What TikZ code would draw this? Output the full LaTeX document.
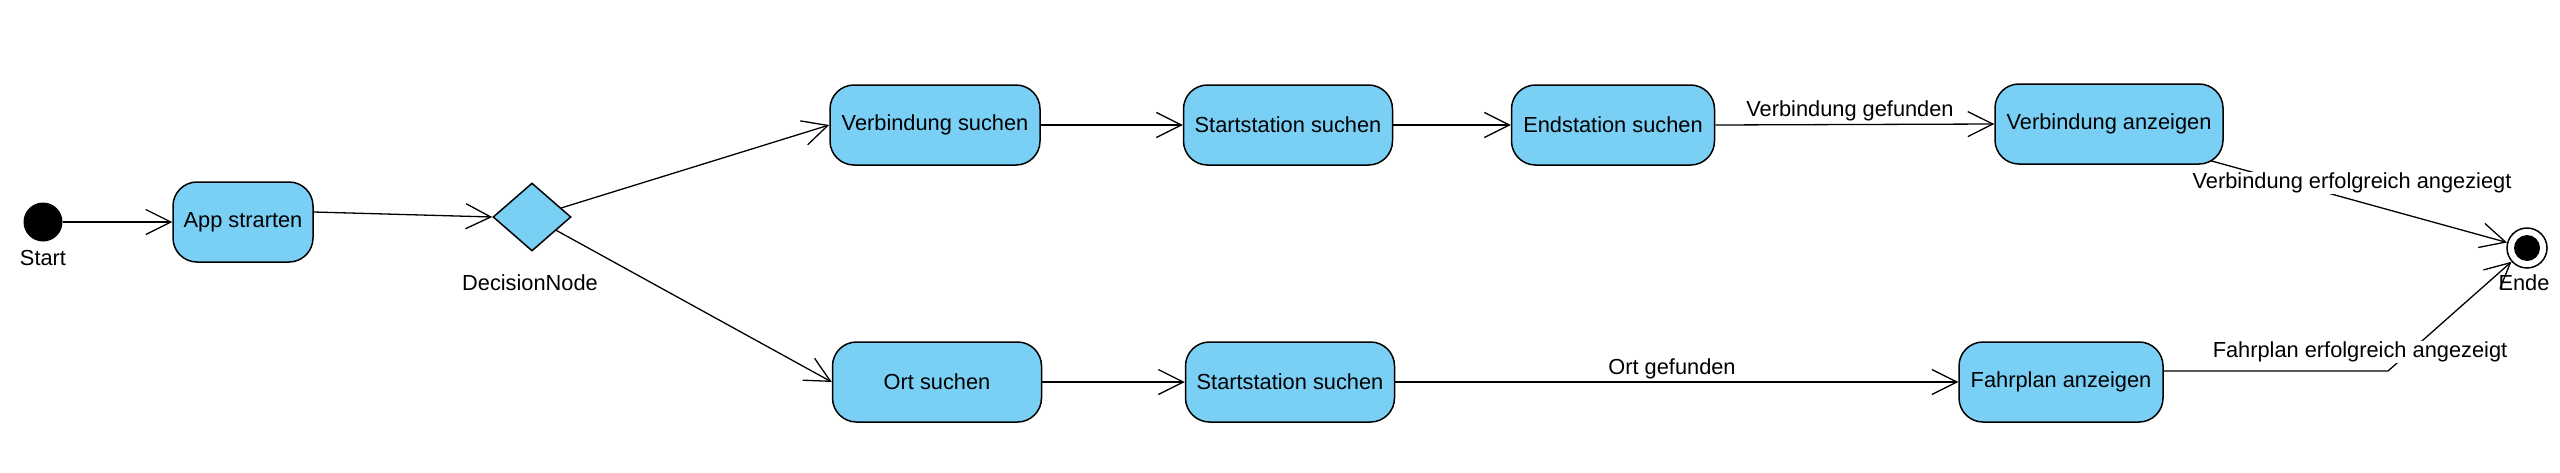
\documentclass[tikz,border=0pt]{standalone}
\usepackage{fontspec}
\setmainfont{Liberation Sans}
\usetikzlibrary{arrows.meta,shapes.geometric,calc}
\definecolor{vpblue}{RGB}{122,207,244}
\begin{document}
\begin{tikzpicture}[x=1pt,y=-1pt,
  every node/.style={font=\fontsize{21.8pt}{26pt}\selectfont},
  act/.style={rectangle,rounded corners=24pt,draw,line width=1.5pt,fill=vpblue,minimum height=80pt,inner sep=0pt},
  conn/.style={line width=1.3pt,-{Straight Barb[length=25pt,width=25pt,line width=1.3pt]}},
  plain/.style={line width=1.3pt},
  lbl/.style={inner sep=1pt},
  wlbl/.style={inner sep=1pt,fill=white}]
\fill[white] (0,0) rectangle (2560,472);
\useasboundingbox (0,0) rectangle (2560,472);

% initial and final nodes
\node[circle,fill=black,minimum size=39pt,inner sep=0pt] (start) at (43,222) {};
\node[lbl] (startl) at (43,258) {Start};
\node[circle,draw,line width=1.5pt,fill=white,minimum size=40pt,inner sep=0pt] (end) at (2527,248) {};
\fill (end.center) circle (13pt);
\node[lbl] (endl) at (2524,283) {Ende};

% activities
\node[act,minimum width=140pt] (app) at (243,222) {App strarten};
\node[diamond,draw,line width=1.5pt,fill=vpblue,minimum width=78pt,minimum height=68pt,inner sep=0pt] (dn) at (532,217) {};
\node[lbl] (dnl) at (530,283) {DecisionNode};

\node[act,minimum width=210pt] (vs) at (935,125) {Verbindung suchen};
\node[act,minimum width=209pt] (ss1) at (1288,125) {Startstation suchen};
\node[act,minimum width=203pt] (es) at (1613,125) {Endstation suchen};
\node[act,minimum width=228pt] (va) at (2109,124) {Verbindung anzeigen};

\node[act,minimum width=209pt] (os) at (937,382) {Ort suchen};
\node[act,minimum width=209pt] (ss2) at (1290,382) {Startstation suchen};
\node[act,minimum width=204pt] (fp) at (2061,382) {Fahrplan anzeigen};

% connectors
\draw[conn] (start) -- (app);
\draw[conn] ([yshift=10pt]app.east) -- (dn.west);
\draw[conn] (dn) -- (vs.west);
\draw[conn] (dn) -- (os.west);
\draw[conn] (vs) -- (ss1);
\draw[conn] (ss1) -- (es);
\draw[conn] (es.east) -- (va.west);
\node[lbl] (vgl) at (1850,111) {Verbindung gefunden};
\draw[conn] (os) -- (ss2);
\draw[conn] (ss2) -- (fp);
\node[lbl] (ogl) at (1672,369) {Ort gefunden};

\draw[conn] ([xshift=-13pt,yshift=4pt]va.south east) -- (end);
\node[wlbl] (vel) at (2352,183) {Verbindung erfolgreich angeziegt};

\coordinate (bend) at (2388,371);
\draw[conn] ([yshift=11pt]fp.east) -- (bend) -- (end);
\node[wlbl] (fel) at (2360,352) {Fahrplan erfolgreich angezeigt};
\end{tikzpicture}
\end{document}
